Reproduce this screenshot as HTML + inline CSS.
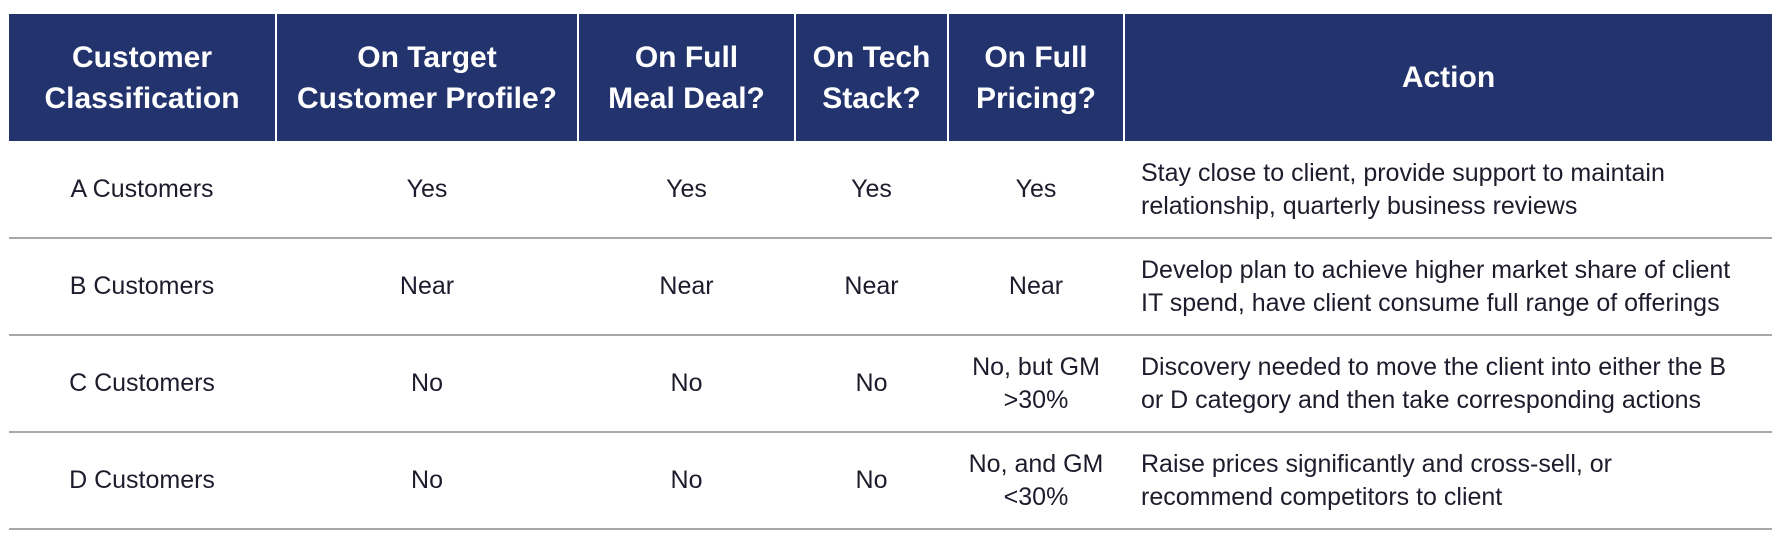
<!DOCTYPE html>
<html><head><meta charset="utf-8"><style>
body{margin:0;width:1783px;height:541px;background:#fff;position:relative;overflow:hidden;font-family:"Liberation Sans",Arial,sans-serif;}
.h{position:absolute;top:14px;height:127px;background:#22336e;color:#fff;font-weight:bold;font-size:30px;line-height:41px;display:flex;align-items:center;justify-content:center;text-align:center;white-space:nowrap;}
.c{position:absolute;font-size:25px;line-height:33px;color:#1c1c2c;display:flex;align-items:center;justify-content:center;text-align:center;white-space:nowrap;}
.a{justify-content:flex-start;text-align:left;}
.l{position:absolute;left:9px;width:1763px;height:2px;background:#a8a8a8;}
</style></head><body>
<div class="h" style="left:9px;width:266px">Customer<br>Classification</div>
<div class="h" style="left:277px;width:300px">On Target<br>Customer Profile?</div>
<div class="h" style="left:579px;width:215px">On Full<br>Meal Deal?</div>
<div class="h" style="left:796px;width:151px">On Tech<br>Stack?</div>
<div class="h" style="left:949px;width:174px">On Full<br>Pricing?</div>
<div class="h" style="left:1125px;width:647px">Action</div>

<div class="c" style="left:9px;width:266px;top:141px;height:97px">A Customers</div>
<div class="c" style="left:277px;width:300px;top:141px;height:97px">Yes</div>
<div class="c" style="left:579px;width:215px;top:141px;height:97px">Yes</div>
<div class="c" style="left:796px;width:151px;top:141px;height:97px">Yes</div>
<div class="c" style="left:949px;width:174px;top:141px;height:97px">Yes</div>
<div class="c a" style="left:1141px;width:630px;top:141px;height:97px">Stay close to client, provide support to maintain<br>relationship, quarterly business reviews</div>
<div class="l" style="top:237px"></div>

<div class="c" style="left:9px;width:266px;top:238px;height:97px">B Customers</div>
<div class="c" style="left:277px;width:300px;top:238px;height:97px">Near</div>
<div class="c" style="left:579px;width:215px;top:238px;height:97px">Near</div>
<div class="c" style="left:796px;width:151px;top:238px;height:97px">Near</div>
<div class="c" style="left:949px;width:174px;top:238px;height:97px">Near</div>
<div class="c a" style="left:1141px;width:630px;top:238px;height:97px">Develop plan to achieve higher market share of client<br>IT spend, have client consume full range of offerings</div>
<div class="l" style="top:334px"></div>

<div class="c" style="left:9px;width:266px;top:335px;height:97px">C Customers</div>
<div class="c" style="left:277px;width:300px;top:335px;height:97px">No</div>
<div class="c" style="left:579px;width:215px;top:335px;height:97px">No</div>
<div class="c" style="left:796px;width:151px;top:335px;height:97px">No</div>
<div class="c" style="left:949px;width:174px;top:335px;height:97px">No, but GM<br>&gt;30%</div>
<div class="c a" style="left:1141px;width:630px;top:335px;height:97px">Discovery needed to move the client into either the B<br>or D category and then take corresponding actions</div>
<div class="l" style="top:431px"></div>

<div class="c" style="left:9px;width:266px;top:432px;height:97px">D Customers</div>
<div class="c" style="left:277px;width:300px;top:432px;height:97px">No</div>
<div class="c" style="left:579px;width:215px;top:432px;height:97px">No</div>
<div class="c" style="left:796px;width:151px;top:432px;height:97px">No</div>
<div class="c" style="left:949px;width:174px;top:432px;height:97px">No, and GM<br>&lt;30%</div>
<div class="c a" style="left:1141px;width:630px;top:432px;height:97px">Raise prices significantly and cross-sell, or<br>recommend competitors to client</div>
<div class="l" style="top:528px"></div>
</body></html>
